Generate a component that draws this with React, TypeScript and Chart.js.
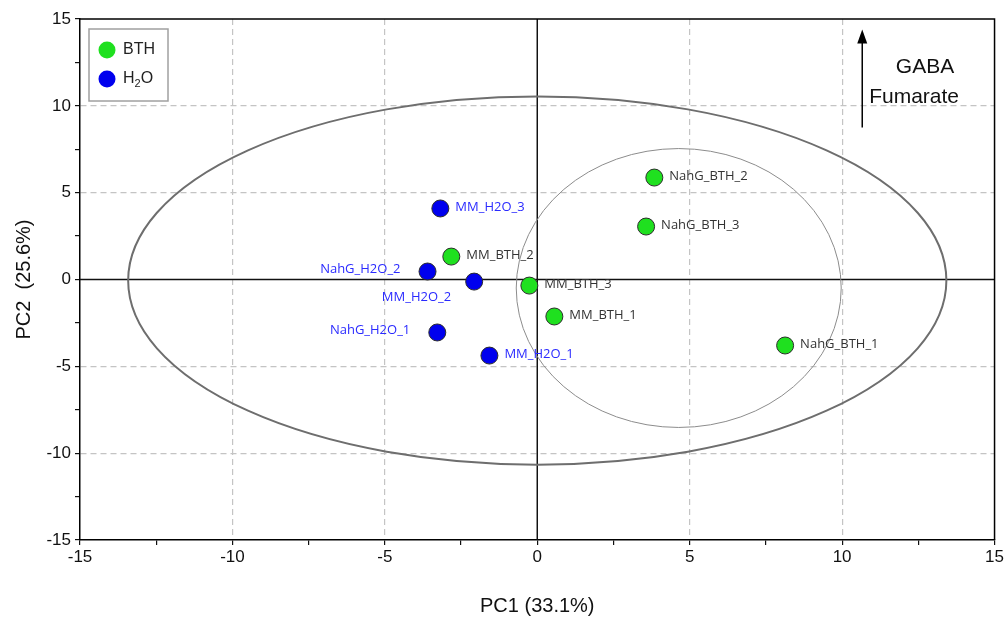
import React, { useEffect, useRef } from 'react';
import { Chart, registerables } from 'chart.js';

Chart.register(...registerables);

// ---- data ----
const bthNames = ['NahG_BTH_1', 'NahG_BTH_2', 'NahG_BTH_3', 'MM_BTH_1', 'MM_BTH_2', 'MM_BTH_3'];
const bthPC1 = [8.13, 3.84, 3.57, 0.56, -2.82, -0.26];
const bthPC2 = [-3.8, 5.87, 3.05, -2.13, 1.32, -0.35];

const h2oNames = ['NahG_H2O_1', 'NahG_H2O_2', 'MM_H2O_1', 'MM_H2O_2', 'MM_H2O_3'];
const h2oPC1 = [-3.28, -3.6, -1.57, -2.07, -3.18];
const h2oPC2 = [-3.05, 0.46, -4.38, -0.12, 4.09];

// label side for each point (style only)
const bthLabelSide = ['right', 'right', 'right', 'right', 'right', 'right'];
const h2oLabelSide = ['left', 'left', 'right', 'belowLeft', 'right'];

// confidence ellipses [cx, cy, rx, ry] in data units
const outerEllipse = [0, -0.06, 13.42, 10.6];
const innerEllipse = [4.64, -0.49, 5.33, 8.03];

const axisMin = -15;
const axisMax = 15;
const tickStep = 2.5;

const BTH_COLOR = '#1fe01f';
const H2O_COLOR = '#0000ee';

const NARROW = '"Liberation Sans Narrow", "Liberation Sans", Arial, sans-serif';
const LABEL_FONT = '13px "Open Sans", "Noto Sans", sans-serif';

const overlayPlugin = {
  id: 'overlay',
  beforeDatasetsDraw(chart: any) {
    const { ctx, chartArea: a, scales } = chart;
    const xs = scales.x, ys = scales.y;
    ctx.save();
    ctx.beginPath();
    ctx.rect(a.left, a.top, a.right - a.left, a.bottom - a.top);
    ctx.clip();
    // zero lines
    ctx.strokeStyle = '#111';
    ctx.lineWidth = 1.5;
    ctx.setLineDash([]);
    const x0 = xs.getPixelForValue(0);
    const y0 = ys.getPixelForValue(0);
    ctx.beginPath();
    ctx.moveTo(x0, a.top); ctx.lineTo(x0, a.bottom);
    ctx.moveTo(a.left, y0); ctx.lineTo(a.right, y0);
    ctx.stroke();
    // ellipses
    const drawEll = (e: number[], color: string, w: number) => {
      const cx = xs.getPixelForValue(e[0]);
      const cy = ys.getPixelForValue(e[1]);
      const rx = Math.abs(xs.getPixelForValue(e[0] + e[2]) - cx);
      const ry = Math.abs(ys.getPixelForValue(e[1] + e[3]) - cy);
      ctx.strokeStyle = color;
      ctx.lineWidth = w;
      ctx.beginPath();
      ctx.ellipse(cx, cy, rx, ry, 0, 0, Math.PI * 2);
      ctx.stroke();
    };
    drawEll(outerEllipse, '#6e6e6e', 2);
    drawEll(innerEllipse, '#8c8c8c', 1);
    ctx.restore();
  },
  afterDatasetsDraw(chart: any) {
    const { ctx, chartArea: a, scales } = chart;
    const xs = scales.x, ys = scales.y;
    ctx.save();
    // point labels
    ctx.font = LABEL_FONT;
    ctx.textBaseline = 'middle';
    const drawLabels = (names: string[], px: number[], py: number[], sides: string[], color: string) => {
      ctx.fillStyle = color;
      names.forEach((n, i) => {
        const x = xs.getPixelForValue(px[i]);
        const y = ys.getPixelForValue(py[i]);
        const s = sides[i];
        if (s === 'right') {
          ctx.textAlign = 'left';
          ctx.fillText(n, x + 15, y - 1);
        } else if (s === 'left') {
          ctx.textAlign = 'right';
          ctx.fillText(n, x - 27, y - 2);
        } else {
          ctx.textAlign = 'right';
          ctx.fillText(n, x - 23, y + 16);
        }
      });
    };
    drawLabels(bthNames, bthPC1, bthPC2, bthLabelSide, '#333333');
    drawLabels(h2oNames, h2oPC1, h2oPC2, h2oLabelSide, '#2a2aff');

    // border (top & right)
    ctx.strokeStyle = '#000';
    ctx.lineWidth = 1.5;
    ctx.beginPath();
    ctx.moveTo(a.left, a.top); ctx.lineTo(a.right, a.top); ctx.lineTo(a.right, a.bottom);
    ctx.stroke();

    // legend
    const lx = a.left + 9, ly = a.top + 10;
    ctx.fillStyle = '#fff';
    ctx.fillRect(lx, ly, 79, 72);
    ctx.strokeStyle = '#a0a0a0';
    ctx.lineWidth = 1.5;
    ctx.strokeRect(lx, ly, 79, 72);
    const legendItems: [string, string][] = [['BTH', BTH_COLOR], ['H2O', H2O_COLOR]];
    legendItems.forEach(([t, c], i) => {
      const cy = ly + 21 + i * 29;
      ctx.beginPath();
      ctx.arc(lx + 18, cy, 8.5, 0, Math.PI * 2);
      ctx.fillStyle = c;
      ctx.fill();
      ctx.fillStyle = '#222';
      ctx.textAlign = 'left';
      ctx.textBaseline = 'middle';
      ctx.font = '16px ' + NARROW;
      if (t === 'H2O') {
        ctx.fillText('H', lx + 34, cy);
        const w = ctx.measureText('H').width;
        ctx.font = '11px ' + NARROW;
        ctx.fillText('2', lx + 34 + w, cy + 5);
        const w2 = ctx.measureText('2').width;
        ctx.font = '16px ' + NARROW;
        ctx.fillText('O', lx + 34 + w + w2, cy);
      } else {
        ctx.fillText(t, lx + 34, cy);
      }
    });

    // arrow annotation
    const ax = xs.getPixelForValue(10.66);
    const ay1 = ys.getPixelForValue(8.75);
    const ay2 = ys.getPixelForValue(14.4);
    ctx.strokeStyle = '#000';
    ctx.fillStyle = '#000';
    ctx.lineWidth = 1.5;
    ctx.beginPath();
    ctx.moveTo(ax, ay1); ctx.lineTo(ax, ay2 + 10);
    ctx.stroke();
    ctx.beginPath();
    ctx.moveTo(ax, ay2);
    ctx.lineTo(ax - 5, ay2 + 14);
    ctx.lineTo(ax + 5, ay2 + 14);
    ctx.closePath();
    ctx.fill();
    ctx.font = '21px ' + NARROW;
    ctx.textAlign = 'center';
    ctx.textBaseline = 'middle';
    ctx.fillStyle = '#111';
    ctx.fillText('GABA', xs.getPixelForValue(12.72), ys.getPixelForValue(12.2));
    ctx.fillText('Fumarate', xs.getPixelForValue(12.36), ys.getPixelForValue(10.5));
    ctx.restore();
  },
};

const gridColor = (ctx: any) => {
  const v = ctx.tick ? ctx.tick.value : 0;
  if (v % 5 === 0 && v !== 0 && Math.abs(v) !== 15) return '#c4c4c4';
  return 'rgba(0,0,0,0)';
};

const makeAxis = (title: string, isY: boolean) => ({
  type: 'linear' as const,
  min: axisMin,
  max: axisMax,
  ticks: {
    stepSize: tickStep,
    autoSkip: false,
    maxRotation: 0,
    color: '#111',
    font: { family: NARROW, size: 17 },
    padding: isY ? 4 : 2,
    callback: (v: any) => (Number(v) % 5 === 0 ? String(v) : ''),
  },
  grid: {
    color: gridColor,
    lineWidth: 1.2,
    tickColor: '#111',
    tickLength: 5,
    drawTicks: true,
    tickBorderDash: [],
    tickWidth: 1.2,
  },
  border: { display: true, color: '#000', width: 1.5, dash: [6, 4] },
  title: {
    display: true,
    text: title,
    color: '#111',
    font: { family: NARROW, size: 20 },
    padding: isY ? { top: 0, bottom: 10 } : { top: 4, bottom: 7 },
  },
  afterFit: (scale: any) => {
    if (isY) scale.width = 68;
    else scale.height = 85;
  },
});

export default function App() {
  const ref = useRef<HTMLCanvasElement | null>(null);
  useEffect(() => {
    document.body.style.margin = '0';
    if (!ref.current) return;
    const chart = new Chart(ref.current, {
      type: 'scatter',
      data: {
        datasets: [
          {
            label: 'BTH',
            data: bthPC1.map((x, i) => ({ x, y: bthPC2[i] })),
            backgroundColor: BTH_COLOR,
            borderColor: '#2b2b2b',
            borderWidth: 1,
            pointRadius: 8.5,
          },
          {
            label: 'H2O',
            data: h2oPC1.map((x, i) => ({ x, y: h2oPC2[i] })),
            backgroundColor: H2O_COLOR,
            borderColor: '#2b2b2b',
            borderWidth: 1,
            pointRadius: 8.5,
          },
        ],
      },
      options: {
        animation: false,
        responsive: false,
        layout: { padding: { left: 12, right: 11, top: 19, bottom: 0 } },
        plugins: { legend: { display: false }, tooltip: { enabled: false } },
        scales: {
          x: makeAxis('PC1 (33.1%)', false),
          y: makeAxis('PC2  (25.6%)', true),
        },
      } as any,
      plugins: [overlayPlugin],
    });
    return () => chart.destroy();
  }, []);
  return (
    <div style={{ width: 1006, height: 625, background: '#fff' }}>
      <canvas ref={ref} width={1006} height={625} style={{ display: 'block' }} />
    </div>
  );
}
